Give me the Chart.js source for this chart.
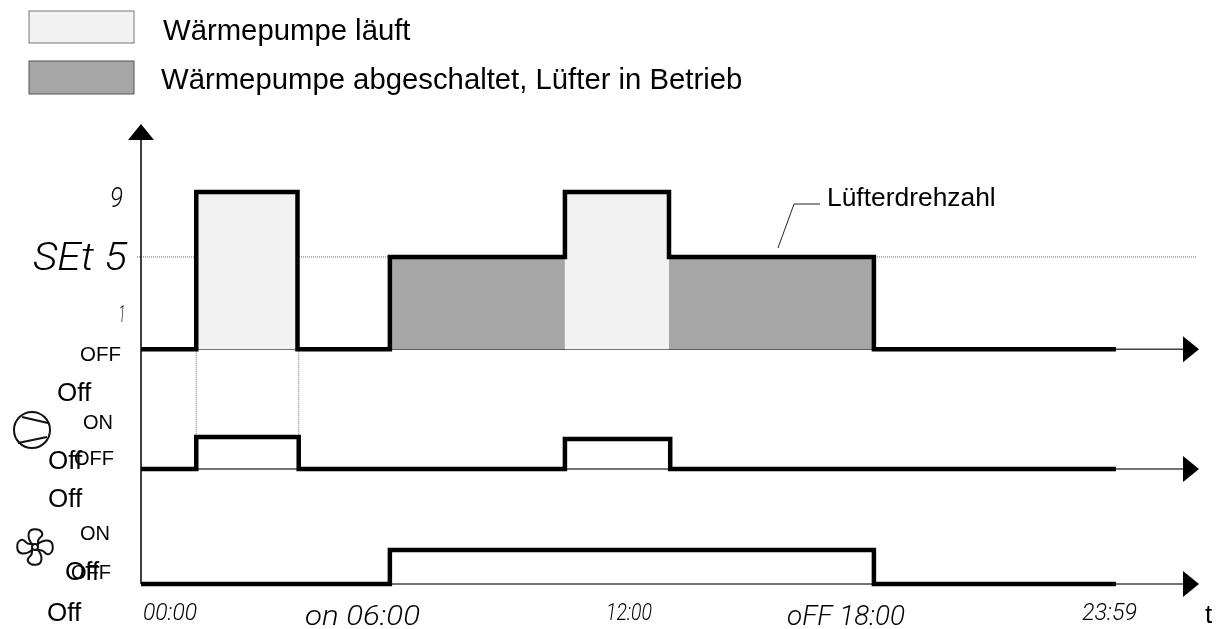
<!DOCTYPE html>
<html>
<head>
<meta charset="utf-8">
<style>
	html, body { margin: 0; padding: 0; background: #fff; }
	#wrap { width: 1223px; height: 629px; }
</style>
<script src="https://cdn.jsdelivr.net/npm/chart.js@4"></script>
</head>
<body>
<div id="wrap"><canvas id="chart" width="1223" height="629"></canvas></div>
<script>
// time in hours, values hold until the next entry
var speedOff = -0.68;
var speedTimes = [-0.17, 1.2, 3.71, 6, 10.34, 12.92, 18, 24];
var speedValues = [speedOff, 9, speedOff, 5, 9, 5, speedOff, speedOff];

var compTimes = [-0.17, 1.2, 3.74, 10.34, 12.95, 24];
var compValues = [0, 1, 0, 0.94, 0, 0];

var fanTimes = [-0.17, 6, 18, 24];
var fanValues = [0, 1, 0, 0];

// [from, to, height]
var runBlocks = [[1.2, 3.71, 9], [10.34, 12.92, 9]];
var fanOnlyBlocks = [[6, 10.34, 5], [12.92, 18, 5]];

var legendLabels = ['Wärmepumpe läuft', 'Wärmepumpe abgeschaltet, Lüfter in Betrieb'];
var speedLabels = ['9', 'SEt 5', '1', 'OFF'];
var stateLabels = ['ON', 'OFF', 'ON', 'OFF'];
var strayLabels = ['Off', 'Off', 'Off', 'Off', 'Off'];
var timeLabels = ['00:00', 'on 06:00', '12:00', 'oFF 18:00', '23:59'];
var calloutLabel = 'Lüfterdrehzahl';
var timeAxisLabel = 't';

function steps(times, values)
{
	return times.map(function (t, i) { return {x: t, y: values[i]}; });
}

function blocks(list)
{
	var pts = [];
	list.forEach(function (b) {
		pts.push({x: b[0], y: b[2]}, {x: b[1], y: b[2]}, {x: b[1], y: null});
	});
	return pts;
}

function line(ctx, pts, color, width, dash)
{
	ctx.save();
	ctx.strokeStyle = color;
	ctx.lineWidth = width;
	ctx.setLineDash(dash || []);
	ctx.beginPath();
	pts.forEach(function (p, i) {
		if (i == 0) ctx.moveTo(p[0], p[1]); else ctx.lineTo(p[0], p[1]);
	});
	ctx.stroke();
	ctx.restore();
}

function triangle(ctx, a, b, c)
{
	ctx.fillStyle = '#000';
	ctx.beginPath();
	ctx.moveTo(a[0], a[1]);
	ctx.lineTo(b[0], b[1]);
	ctx.lineTo(c[0], c[1]);
	ctx.closePath();
	ctx.fill();
}

function text(ctx, str, x, y, size)
{
	ctx.fillStyle = '#000';
	ctx.font = size + 'px "Liberation Sans"';
	ctx.textBaseline = 'middle';
	ctx.textAlign = 'left';
	ctx.fillText(str, x, y);
}

// thin slanted labels, squeezed to the width they have in the picture
function segText(ctx, str, x, base, size, width)
{
	ctx.save();
	ctx.fillStyle = '#000';
	ctx.font = 'italic 300 ' + size + 'px "Roboto"';
	ctx.textBaseline = 'alphabetic';
	ctx.textAlign = 'left';
	var w = ctx.measureText(str).width;
	ctx.translate(x, base);
	ctx.scale(width / w, 1);
	ctx.fillText(str, 0, 0);
	ctx.restore();
}

function drawCompressor(ctx)
{
	ctx.save();
	ctx.strokeStyle = '#111';
	ctx.lineWidth = 2;
	ctx.beginPath();
	ctx.arc(32, 430, 18, 0, Math.PI * 2);
	ctx.stroke();
	ctx.restore();
	line(ctx, [[22, 417], [48, 423]], '#111', 2);
	line(ctx, [[18, 443], [47, 437]], '#111', 2);
}

function drawFan(ctx)
{
	ctx.save();
	ctx.translate(35, 547);
	ctx.rotate(0.12);
	ctx.strokeStyle = '#111';
	ctx.lineWidth = 2;
	ctx.beginPath();
	ctx.arc(0, 0, 3, 0, Math.PI * 2);
	ctx.stroke();
	for (var i = 0; i < 4; i++)
	{
		ctx.beginPath();
		ctx.moveTo(-3, -2);
		ctx.bezierCurveTo(-9, -8, -10, -16, -3, -17.5);
		ctx.bezierCurveTo(4, -19, 8, -14, 4, -10);
		ctx.bezierCurveTo(2, -8, 2, -5, 3, -2);
		ctx.stroke();
		ctx.rotate(Math.PI / 2);
	}
	ctx.restore();
}

var axesPlugin = {
	id: 'axes',
	beforeDatasetsDraw: function (chart) {
		var ctx = chart.ctx;
		var x = chart.scales.x, y = chart.scales.y, yComp = chart.scales.yComp, yFan = chart.scales.yFan;
		var left = x.left, right = 1186;
		var base = y.getPixelForValue(speedOff);
		var compBase = yComp.getPixelForValue(0);
		var fanBase = yFan.getPixelForValue(0);

		// set speed line and the guides down to the compressor pulse
		line(ctx, [[137, y.getPixelForValue(5)], [1197, y.getPixelForValue(5)]], '#666', 1, [1, 1]);
		line(ctx, [[x.getPixelForValue(runBlocks[0][0]), base], [x.getPixelForValue(runBlocks[0][0]), compBase]], '#777', 1, [1, 1]);
		line(ctx, [[x.getPixelForValue(compTimes[2]), base], [x.getPixelForValue(compTimes[2]), compBase]], '#777', 1, [1, 1]);

		line(ctx, [[left, 138], [left, fanBase]], '#000', 1.5);
		[base, compBase, fanBase].forEach(function (py) {
			line(ctx, [[left, py], [right, py]], '#444', 1.5);
		});
	},
	afterDatasetsDraw: function (chart) {
		var ctx = chart.ctx;
		var y = chart.scales.y, yComp = chart.scales.yComp, yFan = chart.scales.yFan;
		var base = y.getPixelForValue(speedOff);
		var compBase = yComp.getPixelForValue(0);
		var fanBase = yFan.getPixelForValue(0);

		triangle(ctx, [128, 140], [154, 140], [141, 124]);
		[base, compBase, fanBase].forEach(function (py) {
			triangle(ctx, [1183, py - 13], [1183, py + 13], [1199, py]);
		});

		// legend
		ctx.fillStyle = chart.data.datasets[3].backgroundColor;
		ctx.fillRect(29, 11, 105, 32);
		ctx.strokeStyle = '#777';
		ctx.lineWidth = 1;
		ctx.strokeRect(29, 11, 105, 32);
		ctx.fillStyle = chart.data.datasets[4].backgroundColor;
		ctx.fillRect(29, 61, 105, 33);
		ctx.strokeStyle = '#555';
		ctx.strokeRect(29, 61, 105, 33);
		text(ctx, legendLabels[0], 163, 32, 29.3);
		text(ctx, legendLabels[1], 161, 81, 29.3);

		// callout
		line(ctx, [[778, 248], [794, 204], [820, 204]], '#222', 1);
		text(ctx, calloutLabel, 827, 199, 26.4);

		// speed levels
		segText(ctx, speedLabels[0], 110, 207, 27, 13);
		segText(ctx, speedLabels[1], 33, 270, 38, 94);
		segText(ctx, speedLabels[2], 119, 322, 24, 6);
		text(ctx, speedLabels[3], 80, 355, 20.5);

		// state labels and the leftover Off texts
		text(ctx, stateLabels[0], 83, 423, 20);
		text(ctx, stateLabels[1], 74, 459, 20);
		text(ctx, stateLabels[2], 80, 534, 20);
		text(ctx, stateLabels[3], 71, 573, 20);
		text(ctx, strayLabels[0], 57, 394, 26);
		text(ctx, strayLabels[1], 48, 462, 26);
		text(ctx, strayLabels[2], 48, 500, 26);
		text(ctx, strayLabels[3], 65, 573, 26);
		text(ctx, strayLabels[4], 47, 614, 26);

		// time labels
		segText(ctx, timeLabels[0], 143, 620, 24, 54);
		segText(ctx, timeLabels[1], 305, 625, 27, 115);
		segText(ctx, timeLabels[2], 606, 620, 24, 46);
		segText(ctx, timeLabels[3], 787, 625, 27, 118);
		segText(ctx, timeLabels[4], 1082, 620, 24, 55);
		text(ctx, timeAxisLabel, 1205, 616, 26);

		drawCompressor(ctx);
		drawFan(ctx);
	}
};

var chart = new Chart(document.getElementById('chart').getContext('2d'), {
	type: 'scatter',
	plugins: [axesPlugin],
	data: {
		datasets: [
			{
				label: 'Lüfterdrehzahl',
				data: steps(speedTimes, speedValues),
				yAxisID: 'y',
				showLine: true,
				stepped: 'before',
				borderColor: '#000',
				borderWidth: 4.5,
				pointRadius: 0
			},
			{
				label: 'Verdichter',
				data: steps(compTimes, compValues),
				yAxisID: 'yComp',
				showLine: true,
				stepped: 'before',
				borderColor: '#000',
				borderWidth: 4.5,
				pointRadius: 0
			},
			{
				label: 'Lüfter',
				data: steps(fanTimes, fanValues),
				yAxisID: 'yFan',
				showLine: true,
				stepped: 'before',
				borderColor: '#000',
				borderWidth: 4.5,
				pointRadius: 0
			},
			{
				label: legendLabels[0],
				data: blocks(runBlocks),
				yAxisID: 'y',
				showLine: true,
				fill: {value: speedOff},
				backgroundColor: '#f2f2f2',
				borderWidth: 0,
				pointRadius: 0
			},
			{
				label: legendLabels[1],
				data: blocks(fanOnlyBlocks),
				yAxisID: 'y',
				showLine: true,
				fill: {value: speedOff},
				backgroundColor: '#a6a6a6',
				borderWidth: 0,
				pointRadius: 0
			}
		]
	},
	options: {
		responsive: false,
		animation: false,
		layout: {padding: {left: 141, right: 24, top: 124, bottom: 0}},
		plugins: {legend: {display: false}, tooltip: {enabled: false}},
		scales: {
			x: {type: 'linear', display: false, min: -0.17, max: 26.06},
			y: {display: false, min: -17.89, max: 13.18},
			yComp: {display: false, min: -5, max: 10.78},
			yFan: {display: false, min: -1.32, max: 13.53}
		}
	}
});
</script>
</body>
</html>
